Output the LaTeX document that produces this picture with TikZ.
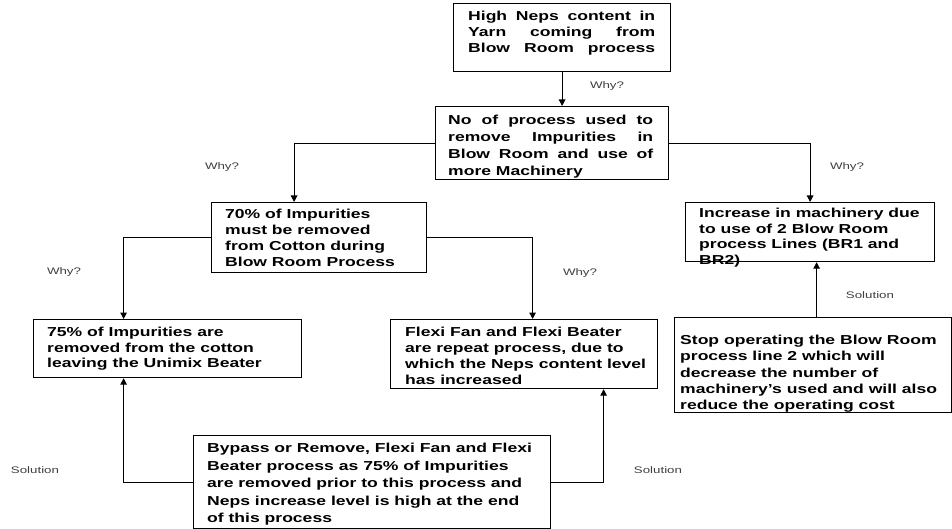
\documentclass[tikz,border=0pt]{standalone}
\usepackage{fontspec}
\setmainfont{Liberation Sans}
\newfontfamily\boxfont{Liberation Sans}[FakeStretch=1.35]
\newfontfamily\labfont{Liberation Sans}[FakeStretch=1.4]
\usetikzlibrary{arrows.meta}
\tikzset{
  box/.style={draw, line width=1.2pt, anchor=north west, inner sep=0pt},
  txt/.style={anchor=north west, inner sep=0pt, align=left,
    font=\boxfont\bfseries\fontsize{13}{#1}\selectfont},
  lab/.style={font=\labfont\fontsize{9.5}{11}\selectfont, text=black!75, inner sep=0pt},
  arr/.style={line width=1.1pt, -{Triangle[width=6.5pt,length=6.5pt]}},
}
\begin{document}
\begin{tikzpicture}[x=1pt,y=-1pt]
\useasboundingbox (0,0) rectangle (952,529);
\fill[white] (0,0) rectangle (952,529);

% boxes
\node[box, minimum width=217pt, minimum height=68pt] (b1) at (453,3) {};
\node[box, minimum width=233pt, minimum height=73pt] (b2) at (435,106) {};
\node[box, minimum width=215pt, minimum height=70pt] (b3) at (211,202) {};
\node[box, minimum width=249pt, minimum height=59pt] (b4) at (685,202) {};
\node[box, minimum width=277pt, minimum height=95pt] (b5) at (674,317) {};
\node[box, minimum width=268pt, minimum height=58pt] (b6) at (33,319) {};
\node[box, minimum width=267pt, minimum height=69pt] (b7) at (390,319) {};
\node[box, minimum width=357pt, minimum height=93pt] (b8) at (193,435) {};

% texts
\node[txt=16] (t1) at (468,11) {\hbox to 187pt{High\hfill Neps\hfill content\hfill in}\\
  \hbox to 187pt{Yarn\hfill coming\hfill from}\\
  \hbox to 187pt{Blow\hfill Room\hfill process}};
\node[txt=17] (t2) at (448,115) {\hbox to 205pt{No\hfill of\hfill process\hfill used\hfill to}\\
  \hbox to 205pt{remove\hfill Impurities\hfill in}\\
  \hbox to 205pt{Blow\hfill Room\hfill and\hfill use\hfill of}\\
  more Machinery};
\node[txt=16] (t3) at (225,209) {70\% of Impurities\\must be removed\\from Cotton during\\Blow Room Process};
\node[txt=15.5] (t4) at (699,208) {Increase in machinery due\\to use of 2 Blow Room\\process Lines (BR1 and\\BR2)};
\node[txt=16.2] (t5) at (680,335) {Stop operating the Blow Room\\process line 2 which will\\decrease the number of\\machinery’s used and will also\\reduce the operating cost};
\node[txt=15.5] (t6) at (47,327) {75\% of Impurities are\\removed from the cotton\\leaving the Unimix Beater};
\node[txt=16] (t7) at (405,327) {Flexi Fan and Flexi Beater\\are repeat process, due to\\which the Neps content level\\has increased};
\node[txt=17.5] (t8) at (207,443) {Bypass or Remove, Flexi Fan and Flexi\\Beater process as 75\% of Impurities\\are removed prior to this process and\\Neps increase level is high at the end\\of this process};

% labels
\node[lab] (w1) at (607,86) {Why?};
\node[lab] (w2) at (222,167) {Why?};
\node[lab] (w3) at (847,167) {Why?};
\node[lab] (w4) at (64,272) {Why?};
\node[lab] (w5) at (580,273) {Why?};
\node[lab] (s1) at (870,295) {Solution};
\node[lab] (s2) at (35,470) {Solution};
\node[lab] (s3) at (658,470) {Solution};

% connectors
\draw[arr] (b1.south) -- (b1.south |- b2.north);
\draw[arr] (b2.west) -| ([xshift=-25pt]b3.north);
\draw[arr] (b2.east) -| (b4.north);
\draw[arr] (b3.west) -| ([xshift=-44pt]b6.north);
\draw[arr] (b3.east) -| ([xshift=8.5pt]b7.north);
\draw[arr] (b8.west) -| ([xshift=-44pt]b6.south);
\draw[arr] (b8.east) -| ([xshift=79.5pt]b7.south);
\draw[arr] ([xshift=3.5pt]b5.north) -- ([xshift=3.5pt]b5.north |- b4.south);
\end{tikzpicture}
\end{document}
